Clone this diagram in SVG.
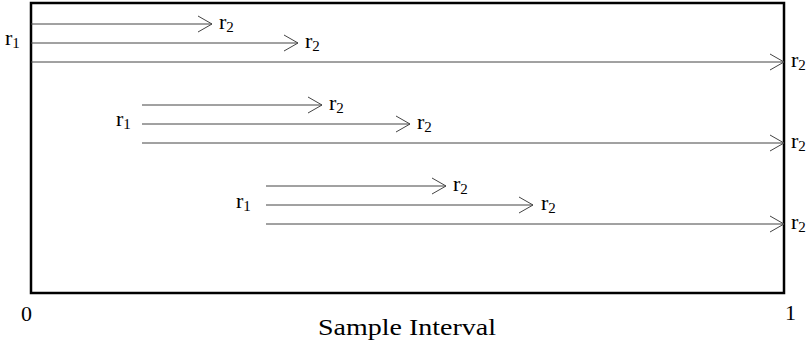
<svg xmlns="http://www.w3.org/2000/svg" width="811" height="341" viewBox="0 0 811 341">
<style>
.t{font-family:"Liberation Serif","Times New Roman",serif;font-size:22px;fill:#000}
.s{font-size:15px}
.ln{stroke:#444;stroke-width:1;fill:none}
.arr{marker-end:url(#ah)}
</style>
<defs>
<marker id="ah" markerUnits="userSpaceOnUse" markerWidth="16" markerHeight="18" viewBox="0 0 16 18" refX="15" refY="9" orient="auto">
<path d="M1,1 L15,9 L1,17" fill="none" stroke="#444" stroke-width="1"/>
</marker>
</defs>
<rect id="interval" x="31" y="3" width="753" height="290" fill="#fff" stroke="#000" stroke-width="2.5"/>
<g id="connectors">
<line class="ln arr" x1="31" y1="24" x2="212" y2="24"/>
<line class="ln arr" x1="31" y1="43" x2="298" y2="43"/>
<line class="ln arr" x1="31" y1="62" x2="784" y2="62"/>
<line class="ln arr" x1="142" y1="105" x2="322" y2="105"/>
<line class="ln arr" x1="142" y1="124" x2="410" y2="124"/>
<line class="ln arr" x1="142" y1="143" x2="784" y2="143"/>
<line class="ln arr" x1="266" y1="186" x2="446" y2="186"/>
<line class="ln arr" x1="266" y1="205" x2="533" y2="205"/>
<line class="ln arr" x1="266" y1="224" x2="784" y2="224"/>
</g>
<g id="group1">
<text class="t" x="5" y="45">r<tspan class="s" dy="3">1</tspan></text>
<text class="t" x="219" y="29">r<tspan class="s" dy="3">2</tspan></text>
<text class="t" x="305" y="48">r<tspan class="s" dy="3">2</tspan></text>
<text class="t" x="791" y="67">r<tspan class="s" dy="3">2</tspan></text>
</g>
<g id="group2">
<text class="t" x="116" y="126">r<tspan class="s" dy="3">1</tspan></text>
<text class="t" x="329" y="110">r<tspan class="s" dy="3">2</tspan></text>
<text class="t" x="417" y="129">r<tspan class="s" dy="3">2</tspan></text>
<text class="t" x="791" y="148">r<tspan class="s" dy="3">2</tspan></text>
</g>
<g id="group3">
<text class="t" x="236" y="208">r<tspan class="s" dy="3">1</tspan></text>
<text class="t" x="453" y="191">r<tspan class="s" dy="3">2</tspan></text>
<text class="t" x="541" y="210">r<tspan class="s" dy="3">2</tspan></text>
<text class="t" x="791" y="229">r<tspan class="s" dy="3">2</tspan></text>
</g>
<g id="axis">
<text class="t" x="21" y="321">0</text>
<text class="t" x="785" y="320">1</text>
<text class="t" x="318" y="335" style="font-size:23px" textLength="178" lengthAdjust="spacingAndGlyphs">Sample Interval</text>
</g>
</svg>
